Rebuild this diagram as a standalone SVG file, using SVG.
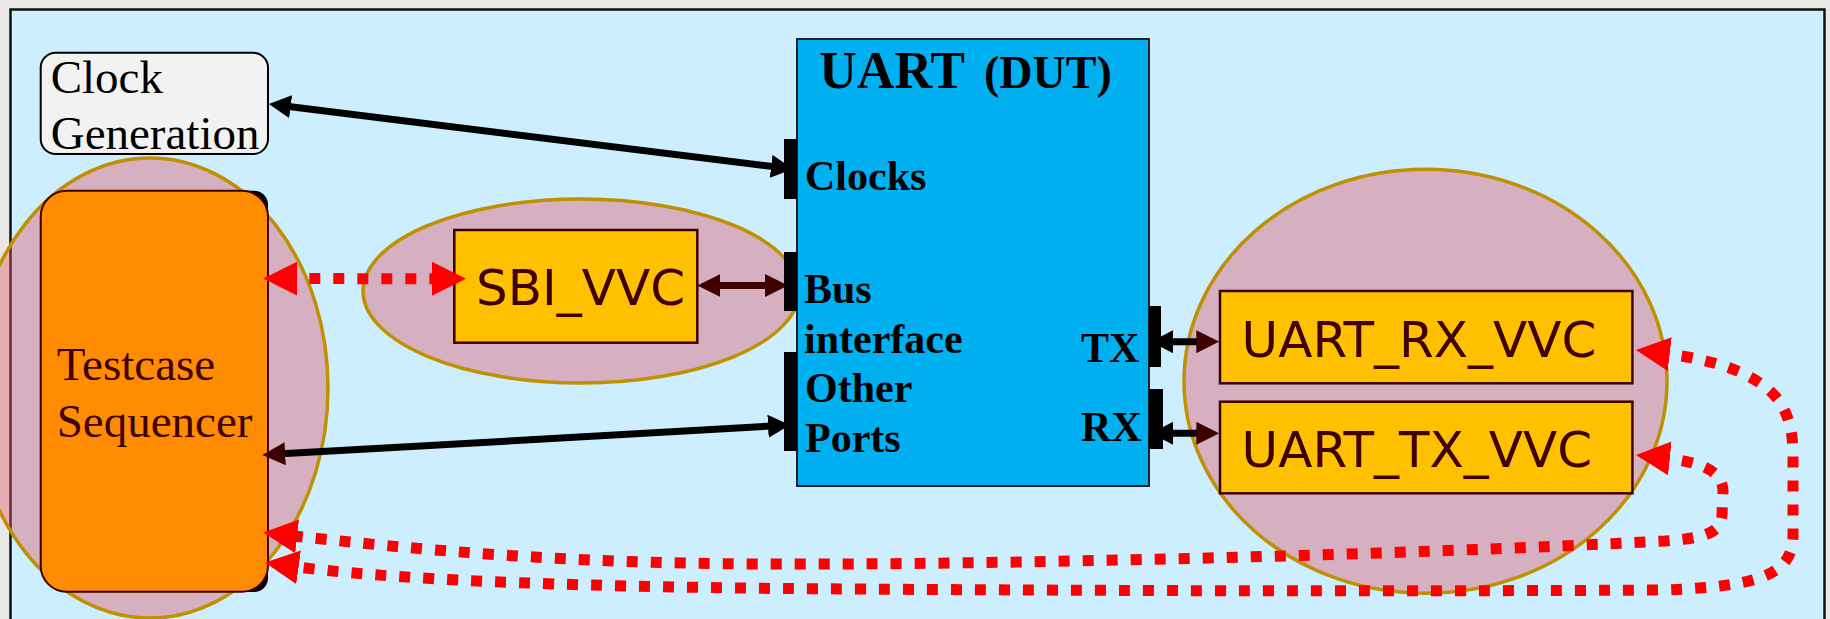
<svg xmlns="http://www.w3.org/2000/svg" width="1830" height="619" viewBox="0 0 1830 619">
<style>
.serif{font-family:"Liberation Serif","Times New Roman",serif}
.sans{font-family:"DejaVu Sans","Verdana",sans-serif}
.port{font-family:"Liberation Serif","Times New Roman",serif;font-weight:bold;font-size:42px;fill:#000}
.vvc{fill:#ffc000;stroke:#3f0000;stroke-width:2.5}
.vvct{font-family:"DejaVu Sans","Verdana",sans-serif;font-size:50px;fill:#3f0000}
.grp{fill:#e55362;fill-opacity:0.4;stroke:#bf9000;stroke-width:3.5}
.bar{fill:#000}
.blk{fill:none;stroke:#000;stroke-width:7}
.brn{fill:none;stroke:#3f0000;stroke-width:7}
.red{fill:none;stroke:#ff0000;stroke-width:11;stroke-dasharray:11 13}
</style>
<defs>
<marker id="ab" viewBox="0 0 22 23" refX="8" refY="11.5" markerWidth="22" markerHeight="23" markerUnits="userSpaceOnUse" orient="auto-start-reverse"><path d="M0,0 L22,11.5 L0,23 z" fill="#000"/></marker>
<marker id="abr" viewBox="0 0 23 23" refX="8" refY="11.5" markerWidth="23" markerHeight="23" markerUnits="userSpaceOnUse" orient="auto-start-reverse"><path d="M0,0 L23,11.5 L0,23 z" fill="#3f0000"/></marker>
<marker id="ar" viewBox="0 0 34 34" refX="12" refY="17" markerWidth="34" markerHeight="34" markerUnits="userSpaceOnUse" orient="auto-start-reverse"><path d="M0,0 L34,17 L0,34 z" fill="#ff0000"/></marker>
</defs>
<rect x="0" y="0" width="1830" height="619" fill="#e8e8e8"/>
<rect x="10.5" y="9.5" width="1814" height="650" fill="#cceeff" stroke="#111" stroke-width="2.5"/>

<g id="tb-group"><ellipse class="grp" cx="150" cy="388" rx="178" ry="230"/></g>
<g id="sbi-group"><ellipse class="grp" cx="581" cy="291" rx="218" ry="92"/></g>
<g id="uart-vvc-group"><ellipse class="grp" cx="1425.5" cy="381.3" rx="241.5" ry="212"/></g>

<g id="clock-generation">
<rect x="40.7" y="52.7" width="227.3" height="101.3" rx="15" fill="#f2f2f2" stroke="#000" stroke-width="2"/>
<text class="serif" font-size="47" fill="#000"><tspan x="50.7" y="92.7">Clock</tspan><tspan x="50.7" y="149.3">Generation</tspan></text>
</g>

<g id="testcase-sequencer">
<rect x="150" y="190.7" width="118" height="401.3" rx="14" fill="#000"/>
<rect x="40.7" y="190.7" width="227.3" height="401" rx="26" fill="#ff8c00" stroke="#3f0000" stroke-width="2"/>
<text class="serif" font-size="47" fill="#3f0000"><tspan x="56.7" y="380">Testcase</tspan><tspan x="56.7" y="436.7">Sequencer</tspan></text>
</g>

<g id="sbi-vvc">
<rect class="vvc" x="454.3" y="230" width="243" height="112.7"/>
<text class="vvct" x="476" y="305">SBI_VVC</text>
</g>

<g id="uart-rx-vvc">
<rect class="vvc" x="1220" y="291" width="412.4" height="92.3"/>
<text class="vvct" x="1241.6" y="357.3">UART_RX_VVC</text>
</g>

<g id="uart-tx-vvc">
<rect class="vvc" x="1220" y="401.7" width="412.4" height="91.6"/>
<text class="vvct" x="1241.6" y="466.7">UART_TX_VVC</text>
</g>

<g id="connectors">
<path class="blk" d="M282.7,105.7 L779.1,167.3" marker-start="url(#ab)" marker-end="url(#ab)"/>
<path class="blk" d="M277.2,454.1 L776,425.8" marker-start="url(#abr)" marker-end="url(#ab)"/>
<path class="brn" d="M712.3,285.5 L773,285.5" marker-start="url(#abr)" marker-end="url(#abr)"/>
<path class="blk" d="M1165,341.7 L1204.3,341.7" marker-start="url(#ab)" marker-end="url(#abr)"/>
<path class="blk" d="M1165,433.3 L1204.3,433.3" marker-start="url(#ab)" marker-end="url(#abr)"/>
<path class="red" d="M285.3,278.5 L444,278.8" marker-start="url(#ar)" marker-end="url(#ar)"/>
<path class="red" d="M1657.9,457.2 C1705,462 1723,472 1723,492 L1722,515 C1721,533 1705,538 1665,541 C1400,555 1000,565 760,564 C560,563 420,550 285.2,535" marker-start="url(#ar)" marker-end="url(#ar)"/>
<path class="red" d="M1657.8,352.6 C1720,360 1760,375 1780,402 C1790,418 1793,435 1793,455 L1793,535 C1793,575 1760,586 1665,590 C1300,592 1000,590 780,588.5 C560,586 390,580 286.7,565.6" marker-start="url(#ar)" marker-end="url(#ar)"/>
</g>

<g id="uart-dut">
<rect x="797" y="39" width="352" height="447" fill="#00b0f0" stroke="#222" stroke-width="2"/>
<rect class="bar" x="784" y="139" width="13" height="60"/>
<rect class="bar" x="784" y="252" width="13" height="59"/>
<rect class="bar" x="784" y="352" width="13" height="99"/>
<rect class="bar" x="1149" y="306" width="12" height="61"/>
<rect class="bar" x="1149" y="389" width="14" height="60"/>
<text class="serif" font-weight="bold" fill="#000"><tspan x="819.3" y="88" font-size="52">UART</tspan><tspan x="984" y="88" font-size="46">(DUT)</tspan></text>
<text class="port" x="805" y="190">Clocks</text>
<text class="port"><tspan x="804" y="302.7">Bus</tspan><tspan x="804" y="353.3">interface</tspan></text>
<text class="port"><tspan x="805" y="401.7">Other</tspan><tspan x="805" y="452.3">Ports</tspan></text>
<text class="port" x="1139.3" y="361.7" text-anchor="end">TX</text>
<text class="port" x="1141.7" y="440.7" text-anchor="end">RX</text>
</g>
</svg>
